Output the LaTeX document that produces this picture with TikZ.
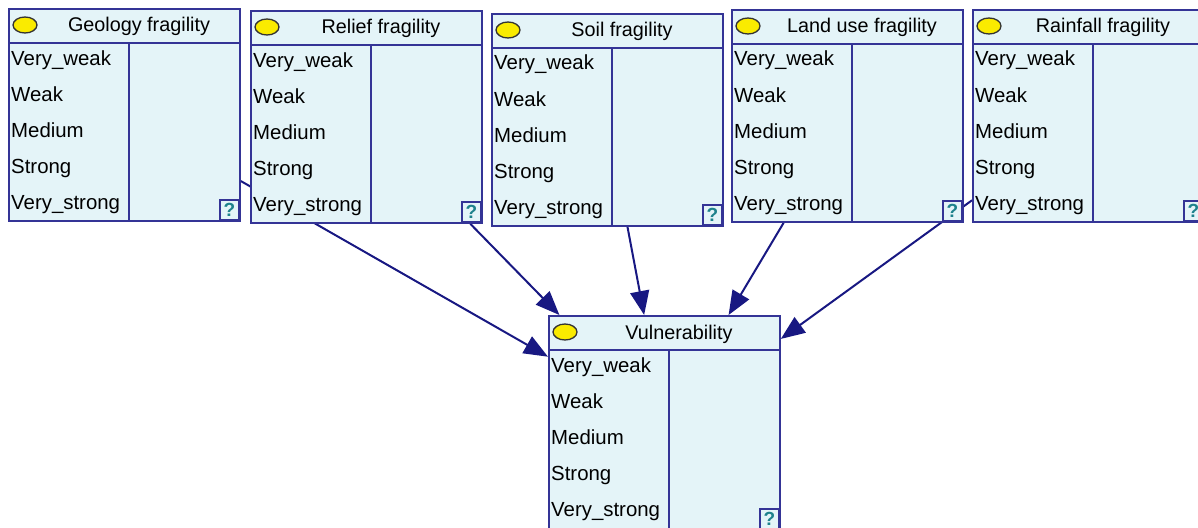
\documentclass[tikz,border=0pt]{standalone}
\usepackage{fontspec}
\setmainfont{Liberation Sans}
\usetikzlibrary{arrows.meta,backgrounds}

\definecolor{boxfill}{RGB}{228,244,248}
\definecolor{boxedge}{RGB}{52,52,150}
\definecolor{linkcol}{RGB}{24,24,130}
\definecolor{qcol}{RGB}{30,130,140}
\definecolor{bulb}{RGB}{250,235,0}

\tikzset{
  nodebox/.style={draw=boxedge, fill=boxfill, line width=1.8pt,
    minimum width=231pt, inner sep=0pt, anchor=north west},
  rule/.style={draw=boxedge, line width=1.6pt},
  titletext/.style={font=\fontsize{19.8}{20}\selectfont, inner sep=0pt, anchor=base},
  statetext/.style={font=\fontsize{20.4}{21}\selectfont, inner sep=0pt, anchor=base west},
  bulbmark/.style={draw=black!80, fill=bulb, line width=1.3pt},
  qbox/.style={draw=boxedge, fill=boxfill, line width=1.5pt},
  qmark/.style={text=qcol, font=\fontsize{19}{19}\bfseries\selectfont, inner sep=0pt},
  link/.style={draw=linkcol, line width=2pt, -{Triangle[length=24pt,width=19pt]}},
}

% One network variable: title bar with bulb, state list, belief column, "?" box
% #1 name, #2 left, #3 top, #4 height, #5 title
\newcommand\bnnode[5]{%
  \node[nodebox, minimum height=#4pt] (#1) at (#2,#3) {};
  \draw[rule] ({#2},{#3+35}) -- ({#2+231},{#3+35});
  \draw[rule] ({#2+121},{#3+35}) -- ({#2+121},{#3+#4});
  \draw[bulbmark] ({#2+17},{#3+17}) ellipse [x radius=12pt, y radius=8pt];
  \node[titletext] (#1-title) at ({#2+131},{#3+24}) {#5};
  \foreach \s [count=\i from 0] in {Very\_weak,Weak,Medium,Strong,Very\_strong}
    \node[statetext] (#1-s\i) at ({#2+3},{#3+57+36*\i}) {\s};
  \draw[qbox] ({#2+212},{#3+#4-20}) rectangle ({#2+231},{#3+#4});
  \node[qmark] (#1-q) at ({#2+221.5},{#3+#4-10}) {?};
}

\begin{document}
\begin{tikzpicture}[x=1pt, y=-1pt]
  \useasboundingbox (0,0) rectangle (1198,527);

  \bnnode{geo}{8}{8}{212}{Geology fragility}
  \bnnode{rel}{250}{10}{212}{Relief fragility}
  \bnnode{soil}{491}{13}{212}{Soil fragility}
  \bnnode{land}{731}{9}{212}{Land use fragility}
  \bnnode{rain}{972}{9}{212}{Rainfall fragility}
  \bnnode{vul}{548}{315}{214}{Vulnerability}

  \begin{scope}[on background layer]
    \draw[link] (geo) -- (vul);
    \draw[link] (rel) -- (vul);
    \draw[link] (soil) -- (vul);
    \draw[link] (land) -- (vul);
    \draw[link] (rain) -- (vul);
  \end{scope}
\end{tikzpicture}
\end{document}
